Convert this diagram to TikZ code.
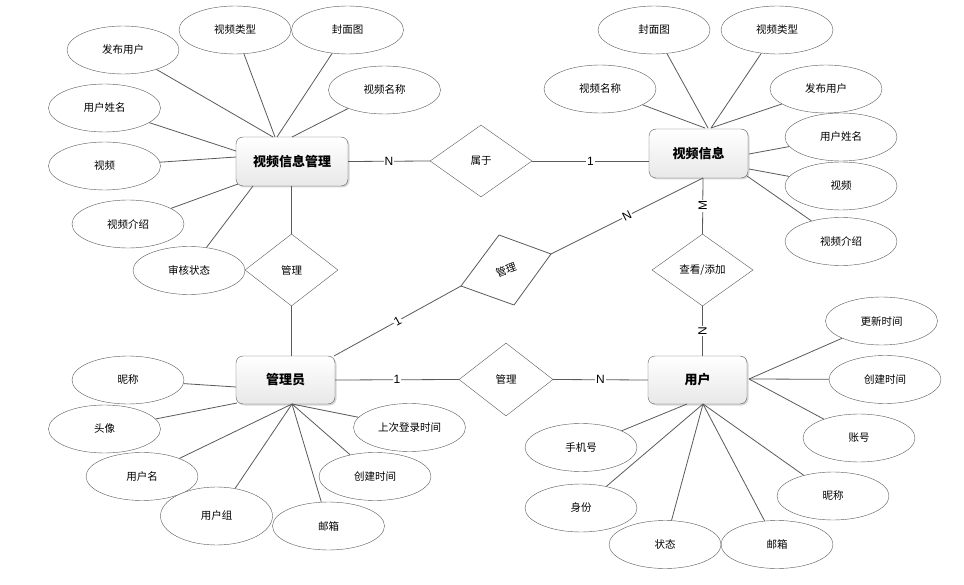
\documentclass[tikz,border=0pt]{standalone}
\usepackage{fontspec}
\setmainfont{Noto Sans CJK SC}
\newfontfamily\lat{Liberation Sans}
\usetikzlibrary{shapes.geometric,shadows,calc}
\definecolor{lc}{HTML}{5A5A5A}
\begin{document}
\begin{tikzpicture}[x=1pt,y=-1pt,
  attr/.style={ellipse, draw=lc, fill=white, minimum width=112pt, minimum height=48pt, inner sep=0pt, font=\fontsize{10.5}{12}\selectfont},
  ent/.style={rectangle, rounded corners=7pt, draw=lc, top color=white, bottom color=black!9, drop shadow={opacity=0.3, shadow xshift=1.5pt, shadow yshift=-1.5pt}, inner sep=0pt, font=\bfseries\fontsize{13}{15}\selectfont},
  rel/.style={diamond, draw=lc, fill=white, inner sep=0pt, font=\fontsize{10.5}{12}\selectfont},
  con/.style={draw=lc, line width=0.8pt},
  lbl/.style={fill=white, inner sep=1pt, font=\lat\fontsize{12}{12}\selectfont, text=black}
]
\fill[white] (0,0) rectangle (964,585);
\useasboundingbox (0,0) rectangle (964,585);

% entities
\node[ent, minimum width=112pt, minimum height=49pt] (vim) at (292,161.5) {视频信息管理};
\node[ent, minimum width=99pt, minimum height=49pt] (vi) at (698.5,153.5) {视频信息};
\node[ent, minimum width=99pt, minimum height=48pt] (adm) at (285.5,380) {管理员};
\node[ent, minimum width=99pt, minimum height=48pt] (usr) at (697.5,380) {用户};

% relationships
\node[rel, minimum width=102pt, minimum height=72pt] (shu) at (481,161) {属于};
\node[rel, minimum width=93pt, minimum height=72pt] (gl1) at (291.5,270) {管理};
\node[rel, minimum width=101pt, minimum height=72pt] (ck) at (702.5,270) {查看/添加};
\node[rel, minimum width=94pt, minimum height=73pt] (gl3) at (506,379.5) {管理};
\coordinate (gl2T) at (499,235);
\coordinate (gl2R) at (551,254);
\coordinate (gl2B) at (514,305);
\coordinate (gl2L) at (461,286);
\draw[con, fill=white] (gl2T) -- (gl2R) -- (gl2B) -- (gl2L) -- cycle;
\node[rotate=20, inner sep=0pt, font=\fontsize{10.5}{12}\selectfont] (gl2) at (506,270) {管理};

% attributes of 视频信息管理
\node[attr] (a1) at (123,50) {发布用户};
\node[attr] (a2) at (235,30) {视频类型};
\node[attr] (a3) at (347.5,30) {封面图};
\node[attr] (a4) at (384.5,90) {视频名称};
\node[attr] (a5) at (104.5,108) {用户姓名};
\node[attr] (a6) at (104.5,166) {视频};
\node[attr] (a7) at (128,224) {视频介绍};
\node[attr] (a8) at (189,270.5) {审核状态};

% attributes of 视频信息
\node[attr] (b1) at (654,30) {封面图};
\node[attr] (b2) at (777,30) {视频类型};
\node[attr] (b3) at (600,89) {视频名称};
\node[attr] (b4) at (826,89) {发布用户};
\node[attr] (b5) at (841,137) {用户姓名};
\node[attr] (b6) at (841,186) {视频};
\node[attr] (b7) at (841,241.5) {视频介绍};

% attributes of 管理员
\node[attr] (c1) at (128,380) {昵称};
\node[attr] (c2) at (104.5,429) {头像};
\node[attr] (c3) at (142,476.5) {用户名};
\node[attr, minimum height=58pt] (c4) at (216.5,516) {用户组};
\node[attr] (c5) at (328.5,526) {邮箱};
\node[attr] (c6) at (375,476.5) {创建时间};
\node[attr] (c7) at (409.5,427.5) {上次登录时间};

% attributes of 用户
\node[attr] (d1) at (881.5,321) {更新时间};
\node[attr] (d2) at (885,379.5) {创建时间};
\node[attr] (d3) at (859,438) {账号};
\node[attr] (d4) at (833,496) {昵称};
\node[attr] (d5) at (777,544.5) {邮箱};
\node[attr] (d6) at (665,544.5) {状态};
\node[attr] (d7) at (581,508) {身份};
\node[attr] (d8) at (581,447.5) {手机号};

% anchor points on boxes
\coordinate (vimT1) at (273,137);
\coordinate (vimT2) at (275,137);
\coordinate (vimT3) at (277,137);
\coordinate (vimT4) at (292,137);
\coordinate (vimL1) at (236,151);
\coordinate (vimL2) at (236,157);
\coordinate (vimL3) at (238,184);
\coordinate (vimB1) at (253,186);

\coordinate (viT1) at (705,128);
\coordinate (viT2) at (708,128);
\coordinate (viT3) at (711,128);
\coordinate (viR1) at (749,154);
\coordinate (viR2) at (749,169);
\coordinate (viR3) at (747,176);
\coordinate (viB) at (703,178);

\coordinate (admL1) at (236,387);
\coordinate (admL2) at (237,403);
\coordinate (admB) at (292,404);
\coordinate (admC) at (334,356);

\coordinate (usrR) at (749,379);
\coordinate (usrB) at (703,404);
\coordinate (usrB2) at (687,404);

% attribute connectors
\foreach \a/\p in {a1/vimT1, a2/vimT2, a3/vimT3, a4/vimT4, a5/vimL1, a6/vimL2, a7/vimL3, a8/vimB1,
                   b3/viT1, b1/viT2, b2/viT3, b4/viT3, b5/viR1, b6/viR2, b7/viR3,
                   c1/admL1, c2/admL2, c3/admB, c4/admB, c5/admB, c6/admB, c7/admB,
                   d1/usrR, d2/usrR, d3/usrR, d4/usrB, d5/usrB, d6/usrB, d7/usrB, d8/usrB2}
  \draw[con] (\a) -- (\p);

% relationship connectors
\draw[con] (vim.east) -- node[lbl] {N} (shu.west);
\draw[con] (shu.east) -- node[lbl] {1} (shu.east -| vi.west);
\draw[con] (vim.south -| gl1.north) -- (gl1.north);
\draw[con] (gl1.south) -- (gl1.south |- adm.north);
\draw[con] (adm.east) -- node[lbl] {1} (gl3.west);
\draw[con] (gl3.east) -- node[lbl] {N} (usr.west);
\draw[con] (viB) -- node[lbl, rotate=90] {M} (ck.north);
\draw[con] (ck.south) -- node[lbl, rotate=90] {N} (ck.south |- usr.north);
\draw[con] (admC) -- node[lbl, sloped] {1} (gl2L);
\draw[con] (gl2R) -- node[lbl, sloped] {N} (viB);
\end{tikzpicture}
\end{document}
